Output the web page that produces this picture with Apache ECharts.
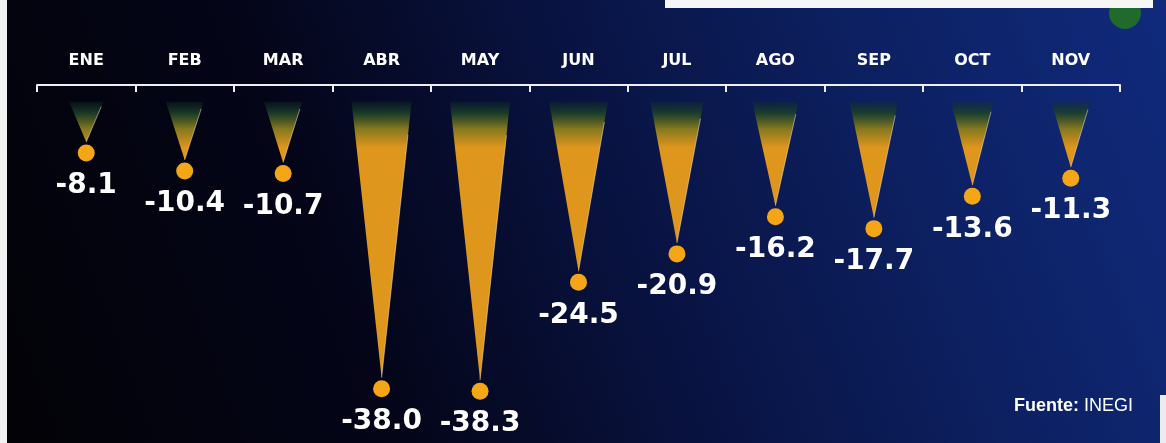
<!DOCTYPE html>
<html>
<head>
<meta charset="utf-8">
<script src="https://cdn.jsdelivr.net/npm/echarts@6/dist/echarts.min.js"></script>
<style>
  html, body { margin: 0; padding: 0; background: #03030a; }
  #chart { width: 1166px; height: 443px; }
</style>
</head>
<body>
<div id="chart"></div>
<script>
// Variación anual por mes (%)
const months = ['ENE', 'FEB', 'MAR', 'ABR', 'MAY', 'JUN', 'JUL', 'AGO', 'SEP', 'OCT', 'NOV'];
const changes = [-8.1, -10.4, -10.7, -38.0, -38.3, -24.5, -20.9, -16.2, -17.7, -13.6, -11.3];
const sourceLabel = 'Fuente:';
const sourceName = ' INEGI';

// each cone starts a little below the month axis
const coneStart = -3;

const chart = echarts.init(document.getElementById('chart'), null, { renderer: 'canvas' });

function renderCone(params, api) {
  const idx = api.value(0);
  const v = api.value(1);
  const top = api.coord([idx, coneStart]);
  const tip = api.coord([idx, v]);
  const w = Math.min(60, 22 + 1.5 * Math.abs(v));
  const x = top[0];
  const fill = new echarts.graphic.LinearGradient(0, top[1] - 4, 0, top[1] + 46, [
    { offset: 0, color: 'rgba(16, 44, 40, 0.1)' },
    { offset: 0.3, color: 'rgba(28, 66, 40, 0.85)' },
    { offset: 0.62, color: '#84781f' },
    { offset: 1, color: '#df961c' }
  ], true);
  const dotY = tip[1] + 11;
  // thin light rim along the right edge, fading in below the dark top
  const t0 = 0.12;
  const rx = x + w / 2 + (tip[0] - x - w / 2) * t0;
  const ry = top[1] + (tip[1] - top[1]) * t0;
  return {
    type: 'group',
    children: [
      {
        type: 'polygon',
        shape: { points: [[x - w / 2, top[1]], [x + w / 2, top[1]], [tip[0], tip[1]]] },
        style: { fill: fill }
      },
      {
        type: 'line',
        shape: { x1: rx, y1: ry, x2: tip[0], y2: tip[1] },
        style: { stroke: 'rgba(255, 236, 205, 0.5)', lineWidth: 1 }
      },
      {
        type: 'circle',
        shape: { cx: tip[0], cy: dotY, r: 8.5 },
        style: { fill: '#f4a617' }
      },
      {
        type: 'text',
        x: tip[0],
        y: dotY + 33,
        style: {
          text: v.toFixed(1),
          fill: '#ffffff',
          font: 'bold 28px "DejaVu Sans", sans-serif',
          align: 'center',
          verticalAlign: 'middle'
        }
      }
    ]
  };
}

chart.setOption({
  animation: false,
  backgroundColor: new echarts.graphic.LinearGradient(0, 1, 1, 0, [
    { offset: 0, color: '#020206' },
    { offset: 0.3, color: '#040518' },
    { offset: 0.55, color: '#091444' },
    { offset: 0.8, color: '#0d2266' },
    { offset: 1, color: '#102a7c' }
  ]),
  grid: { left: 37, right: 46, top: 78, bottom: 10 },
  xAxis: {
    type: 'category',
    data: months,
    position: 'top',
    offset: -7,
    boundaryGap: true,
    axisLine: { show: true, lineStyle: { color: '#eeeef4', width: 2 } },
    axisTick: {
      show: true,
      interval: 0,
      inside: true,
      length: 7,
      lineStyle: { color: '#eeeef4', width: 2 }
    },
    axisLabel: {
      color: '#ffffff',
      fontFamily: '"DejaVu Sans", sans-serif',
      fontWeight: 'bold',
      fontSize: 16,
      margin: 16
    },
    splitLine: { show: false }
  },
  yAxis: {
    type: 'value',
    min: -45,
    max: 0,
    axisLine: { show: false },
    axisTick: { show: false },
    axisLabel: { show: false },
    splitLine: { show: false }
  },
  series: [{
    type: 'custom',
    clip: false,
    renderItem: renderCone,
    data: changes.map((v, i) => [i, v])
  }],
  graphic: [
    { type: 'circle', shape: { cx: 1125, cy: 13, r: 16 }, style: { fill: '#1f6a2c' } },
    { type: 'rect', shape: { x: 0, y: 0, width: 7, height: 443 }, style: { fill: '#f2f2f2' } },
    { type: 'rect', shape: { x: 665, y: 0, width: 488, height: 8 }, style: { fill: '#f6f6f6' } },
    { type: 'rect', shape: { x: 1160, y: 395, width: 6, height: 48 }, style: { fill: '#ececec' } },
    {
      type: 'text',
      right: 33,
      top: 397,
      style: {
        text: '{b|' + sourceLabel + '}{r|' + sourceName + '}',
        rich: {
          b: { fill: '#ffffff', font: 'bold 18px "Liberation Sans", Arial, sans-serif' },
          r: { fill: '#ffffff', font: '18px "Liberation Sans", Arial, sans-serif' }
        }
      }
    }
  ]
});
</script>
</body>
</html>
